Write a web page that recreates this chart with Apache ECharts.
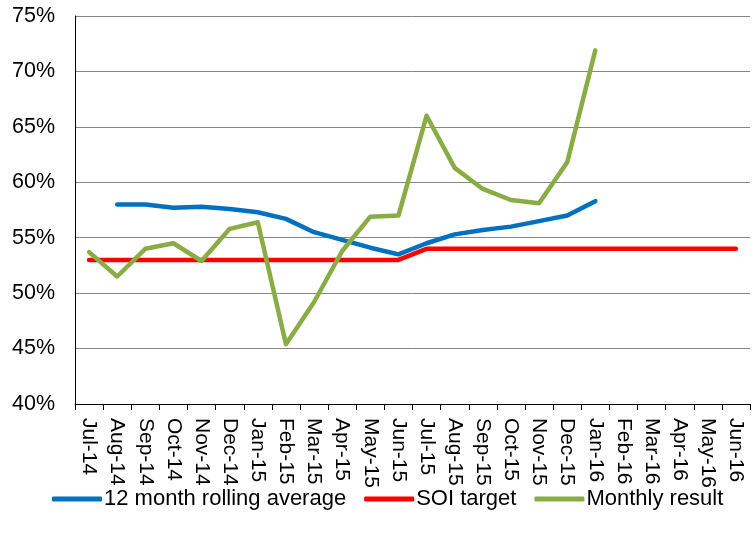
<!DOCTYPE html>
<html>
<head>
<meta charset="utf-8">
<script src="https://cdn.jsdelivr.net/npm/echarts@6/dist/echarts.min.js"></script>
<style>
  html, body { margin: 0; padding: 0; background: #fff; }
  #chart { width: 752px; height: 540px; }
</style>
</head>
<body>
<div id="chart"></div>
<script>
// months shown on the x axis
const months = ['Jul-14', 'Aug-14', 'Sep-14', 'Oct-14', 'Nov-14', 'Dec-14', 'Jan-15', 'Feb-15',
  'Mar-15', 'Apr-15', 'May-15', 'Jun-15', 'Jul-15', 'Aug-15', 'Sep-15', 'Oct-15', 'Nov-15',
  'Dec-15', 'Jan-16', 'Feb-16', 'Mar-16', 'Apr-16', 'May-16', 'Jun-16'];

// values in percent
const rollingAvg = [null, 58.0, 58.0, 57.7, 57.8, 57.6, 57.3, 56.7, 55.5, 54.8, 54.1, 53.5,
  54.5, 55.3, 55.7, 56.0, 56.5, 57.0, 58.3, null, null, null, null, null];
const soiTarget = [53, 53, 53, 53, 53, 53, 53, 53, 53, 53, 53, 53,
  54, 54, 54, 54, 54, 54, 54, 54, 54, 54, 54, 54];
const monthly = [53.7, 51.5, 54.0, 54.5, 52.9, 55.8, 56.4, 45.4, 49.2, 53.8, 56.9, 57.0,
  66.0, 61.3, 59.4, 58.4, 58.1, 61.8, 71.9, null, null, null, null, null];

const font = 'Liberation Sans, Arial, sans-serif';

let myChart = echarts.init(document.getElementById('chart'));

function lineSeries(name, data, color) {
  return {
    name: name,
    type: 'line',
    data: data,
    showSymbol: false,
    symbol: 'none',
    lineStyle: { color: color, width: 4.5, cap: 'round', join: 'round' },
    itemStyle: { color: color },
    animation: false
  };
}

let option = {
  backgroundColor: '#fff',
  grid: { left: 75, right: 2, top: 16, bottom: 136 },
  legend: {
    left: 47,
    top: 483,
    itemWidth: 50,
    itemHeight: 5,
    itemGap: 18,
    icon: 'roundRect',
    textStyle: { fontFamily: font, fontSize: 22, color: '#000', padding: [0, 0, 0, -3] },
    data: ['12 month rolling average', 'SOI target', 'Monthly result']
  },
  xAxis: {
    type: 'category',
    data: months,
    boundaryGap: true,
    axisLine: { lineStyle: { color: '#000', width: 1 } },
    axisTick: { show: true, length: 6, alignWithLabel: false, lineStyle: { color: '#000' } },
    axisLabel: {
      rotate: -90,
      interval: 0,
      margin: 14,
      fontFamily: font,
      fontSize: 21,
      color: '#000'
    },
    splitLine: { show: false }
  },
  yAxis: {
    type: 'value',
    min: 40,
    max: 75,
    interval: 5,
    axisLine: { show: true, lineStyle: { color: '#000', width: 1 } },
    axisTick: { show: false },
    axisLabel: {
      formatter: '{value}%',
      margin: 20,
      fontFamily: font,
      fontSize: 21.5,
      color: '#000'
    },
    splitLine: { lineStyle: { color: '#868686', width: 1 } }
  },
  series: [
    lineSeries('12 month rolling average', rollingAvg, '#0070C0'),
    lineSeries('SOI target', soiTarget, '#FF0000'),
    lineSeries('Monthly result', monthly, '#8AAC44')
  ]
};
option && myChart.setOption(option);
</script>
</body>
</html>
